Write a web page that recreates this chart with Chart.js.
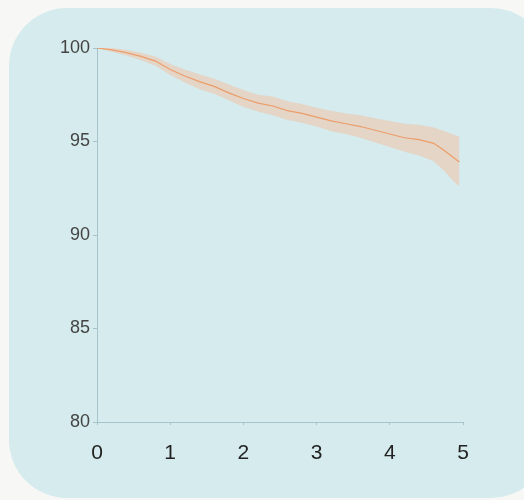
<!DOCTYPE html>
<html>
<head>
<meta charset="utf-8">
<script src="https://cdn.jsdelivr.net/npm/chart.js@4.4.1/dist/chart.umd.min.js"></script>
<style>
  html, body { margin: 0; padding: 0; background: #f7f8f6; }
  #wrap { position: relative; width: 524px; height: 500px; overflow: hidden; }
  #card { position: absolute; left: 9px; top: 8px; width: 540px; height: 490px;
          background: #d6ebed; border-radius: 58px; }
  #myChart { position: absolute; left: 0; top: 0; }
</style>
</head>
<body>
<div id="wrap">
  <div id="card"></div>
  <canvas id="myChart" width="524" height="500"></canvas>
</div>
<script>
// years after diagnosis / survival (%)
const years = [0, 0.2, 0.4, 0.6, 0.8, 1.0, 1.2, 1.4, 1.6, 1.8, 2.0, 2.2, 2.4, 2.6, 2.8,
               3.0, 3.2, 3.4, 3.6, 3.8, 4.0, 4.2, 4.4, 4.6, 4.75, 4.85, 4.95];
const survival = [100, 99.9, 99.75, 99.55, 99.3, 98.85, 98.5, 98.2, 97.95, 97.6, 97.3, 97.05, 96.9, 96.65, 96.5,
                  96.3, 96.1, 95.95, 95.8, 95.6, 95.4, 95.2, 95.1, 94.9, 94.5, 94.2, 93.9];
const lower = [100, 99.8, 99.6, 99.35, 99.05, 98.55, 98.15, 97.8, 97.55, 97.2, 96.85, 96.6, 96.4, 96.15, 96.0,
               95.8, 95.55, 95.4, 95.2, 94.95, 94.7, 94.45, 94.25, 93.95, 93.4, 92.95, 92.6];
const upper = [100, 100, 99.9, 99.75, 99.55, 99.15, 98.85, 98.6, 98.35, 98.05, 97.75, 97.5, 97.4, 97.15, 97.0,
               96.8, 96.65, 96.5, 96.4, 96.25, 96.1, 95.95, 95.9, 95.75, 95.55, 95.4, 95.25];
const xTicks = [0, 1, 2, 3, 4, 5];
const yTicks = [80, 85, 90, 95, 100];

const pts = arr => years.map((t, i) => ({ x: t, y: arr[i] }));
const axisCol = '#a7c3ca';
const fam = "'Liberation Sans', Arial, sans-serif";

const ctx = document.getElementById('myChart').getContext('2d');
const myChart = new Chart(ctx, {
    type: 'line',
    data: {
        datasets: [
            { data: pts(lower), borderWidth: 0, pointRadius: 0, fill: false },
            { data: pts(upper), borderWidth: 0, pointRadius: 0, fill: '-1',
              backgroundColor: 'rgba(255, 170, 125, 0.34)' },
            { data: pts(survival), borderColor: '#e2965e', borderWidth: 1.2, pointRadius: 0, fill: false }
        ]
    },
    options: {
        responsive: false,
        animation: false,
        layout: { padding: { left: 0, top: 48, right: 61, bottom: 0 } },
        plugins: { legend: { display: false }, tooltip: { enabled: false } },
        scales: {
            x: {
                type: 'linear', min: 0, max: 5,
                afterBuildTicks: s => { s.ticks = xTicks.map(v => ({ value: v })); },
                afterFit: s => { s.height = 78; },
                border: { color: axisCol, width: 1 },
                grid: { drawOnChartArea: false, tickLength: 3, color: axisCol },
                ticks: { color: '#222', padding: 16, font: { family: fam, size: 21 } }
            },
            y: {
                min: 80, max: 100,
                afterBuildTicks: s => { s.ticks = yTicks.map(v => ({ value: v })); },
                afterFit: s => { s.width = 97; },
                border: { color: axisCol, width: 1 },
                grid: { drawOnChartArea: false, tickLength: 4, color: axisCol },
                ticks: { color: '#444', padding: 3, font: { family: fam, size: 18 } }
            }
        }
    }
});
</script>
</body>
</html>
